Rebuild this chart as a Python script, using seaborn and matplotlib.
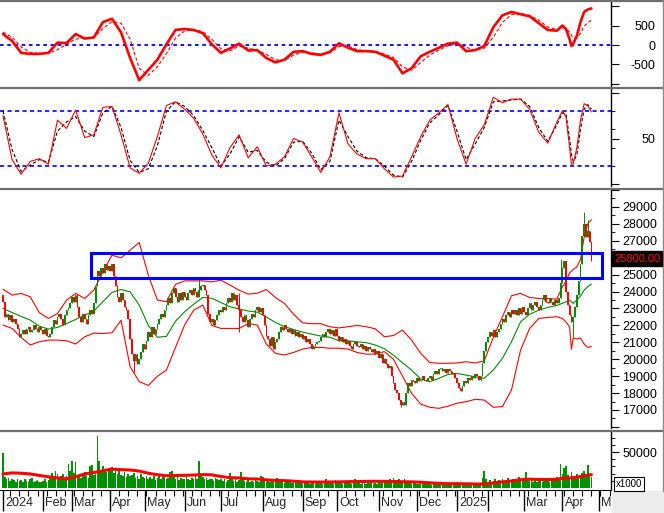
import numpy as np
import pandas as pd
import seaborn as sns
import matplotlib
matplotlib.use("Agg")
import matplotlib.pyplot as plt
from matplotlib.patches import Rectangle
from matplotlib.lines import Line2D

# ---- daily sessions, Jan 2024 -> Apr 2025 ----
close = [
    23400, 22500, 22700, 22300, 22600, 22200, 22400, 22100, 21800, 21300,
    21500, 21700, 21500, 21800, 21900, 21600, 21700, 22000, 21800, 21600,
    21900, 21700, 21500, 21800, 21400, 21300, 21500, 21900, 22300, 22100,
    22500, 22700, 22400, 22000, 22600, 22900, 23000, 23300, 23700, 23400,
    23800, 23100, 22500, 22200, 22700, 22400, 22100, 22600, 22900, 22700,
    23300, 24300, 25200, 24900, 25400, 25100, 25600, 25300, 25500, 25200,
    25600, 24900, 24300, 23700, 23400, 23900, 23500, 23100, 22900, 22400,
    21200, 20300, 19900, 20300, 19700, 20000, 20400, 20900, 20600, 21100,
    21600, 21300, 21900, 21500, 21800, 22100, 22400, 22700, 22500, 22900,
    23200, 23600, 23300, 23900, 24200, 23700, 23400, 23900, 23500, 24000,
    23700, 23500, 23900, 24100, 23800, 24200, 24000, 23700, 24100, 24300,
    24400, 24100, 23800, 22700, 22200, 22400, 22000, 22300, 22600, 22900,
    22800, 23100, 22900, 23300, 23600, 23400, 23900, 23500, 23800, 23200,
    22900, 22500, 22200, 22600, 22300, 21900, 22400, 22700, 22500, 22900,
    23100, 22800, 23000, 22600, 22000, 21400, 21200, 20800, 21300, 20600,
    21000, 21200, 21600, 21900, 21700, 22000, 21800, 21600, 21800, 21500,
    21700, 21400, 21600, 21300, 21500, 21200, 21400, 21000, 21200, 20900,
    20600, 20800, 20900, 21000, 21100, 21300, 21500, 21300, 21600, 21800,
    21500, 21700, 21400, 21800, 21400, 21100, 21300, 21000, 21200, 20900,
    21100, 20800, 20600, 20900, 21000, 20800, 20700, 20900, 20600, 20800,
    20500, 20700, 20600, 20400, 20600, 20300, 20500, 20100, 20300, 19800,
    20000, 19700, 19500, 19600, 19000, 18600, 18200, 18000, 17600, 17300,
    17500, 17300, 18000, 18600, 18400, 18800, 18700, 18600, 18900, 18700,
    18800, 19000, 18800, 18700, 18900, 19000, 18800, 19100, 19300, 19100,
    19400, 19500, 19300, 19400, 19200, 19400, 19300, 19100, 19200, 18900,
    18600, 18300, 18100, 18400, 18700, 18600, 18900, 18800, 19000, 18900,
    19100, 19000, 18800, 19000, 19800, 20500, 21000, 21300, 21600, 21400,
    21700, 21300, 21600, 21800, 22100, 22400, 22200, 22600, 22800, 22500,
    22900, 22700, 22900, 22600, 23000, 22700, 23100, 22800, 22600, 23000,
    23300, 22900, 23200, 23400, 23100, 22900, 23200, 23500, 23800, 23400,
    23300, 23600, 23400, 23200, 23500, 23300, 23600, 24500, 25400, 25800,
    24000, 23200, 22600, 22200, 22500, 23100, 23800, 24600, 25600, 27300,
    28000, 27200, 27600, 26900, 25800,
]
first_open = 23800
wick_high = {108: 24850, 130: 23900, 307: 25900, 320: 28700, 322: 28200}
wick_low = {72: 19250, 130: 21600, 219: 17200, 314: 21300}

# volume, thousands of (x1000) units
volume = [
    48, 15, 12, 14, 10, 13, 11, 9, 12, 10,
    11, 9, 13, 10, 8, 12, 14, 9, 10, 11,
    9, 8, 10, 12, 9, 11, 17, 21, 15, 23,
    19, 14, 16, 20, 12, 17, 33, 24, 38, 21,
    36, 18, 15, 14, 19, 22, 17, 14, 30, 32,
    18, 20, 72, 37, 24, 30, 27, 22, 28, 25,
    29, 21, 26, 19, 24, 18, 17, 22, 15, 20,
    16, 18, 21, 14, 17, 13, 19, 15, 14, 16,
    12, 15, 13, 17, 11, 14, 16, 12, 15, 18,
    13, 14, 22, 24, 16, 12, 15, 11, 14, 13,
    12, 15, 13, 11, 14, 12, 16, 13, 38, 17,
    15, 12, 14, 11, 13, 12, 10, 14, 12, 11,
    13, 10, 12, 9, 11, 21, 13, 10, 12, 9,
    11, 22, 12, 10, 9, 11, 8, 10, 9, 12,
    10, 8, 16, 15, 11, 9, 12, 8, 10, 9,
    11, 14, 9, 8, 10, 7, 9, 8, 10, 7,
    8, 9, 7, 8, 10, 6, 8, 7, 9, 6,
    8, 7, 6, 9, 7, 8, 6, 7, 12, 8,
    7, 9, 6, 11, 8, 7, 9, 6, 8, 7,
    9, 7, 6, 8, 12, 7, 9, 6, 8, 7,
    6, 9, 7, 8, 6, 7, 5, 8, 9, 7,
    11, 8, 9, 12, 10, 14, 9, 11, 13, 10,
    9, 12, 8, 7, 9, 6, 8, 7, 6, 5,
    7, 6, 5, 7, 6, 5, 4, 6, 5, 7,
    5, 4, 6, 5, 4, 6, 5, 4, 5, 6,
    8, 6, 5, 4, 5, 6, 4, 5, 6, 4,
    5, 4, 6, 5, 14, 23, 12, 9, 11, 8,
    10, 13, 9, 11, 8, 12, 10, 9, 14, 11,
    10, 13, 9, 11, 15, 10, 12, 14, 22, 11,
    10, 12, 9, 11, 8, 10, 13, 9, 11, 10,
    12, 9, 11, 10, 13, 15, 12, 34, 20, 28,
    31, 18, 14, 22, 16, 12, 19, 14, 18, 21,
    24, 17, 32, 19, 15,
]

# ---- indicator lines, read at these sessions ----
ind_idx = list(range(0, 306, 5)) + [308, 310, 312, 313, 314, 316, 318, 320, 322, 324]

bb_upper = [
    24140, 23790, 23890, 23690, 22750, 22410, 22700, 23490, 23890, 23590,
    24080, 25160, 26150, 25990, 26440, 26900, 24970, 23500, 23400, 24420,
    24630, 24630, 24630, 24570, 24670, 24380, 24080, 23850, 23900, 24120,
    23650, 23300, 22660, 22150, 22100, 22100, 21920, 21850, 21920, 22000,
    21920, 21800, 21330, 21400, 21720, 21130, 20350, 19800, 19760, 19760,
    19780, 19850, 19780, 19900, 21300, 22500, 23750, 23890, 23650, 23590,
    23590, 23550, 24280, 24600, 25100, 25200, 25300, 25450, 25900, 27200, 28000, 28250,
]
bb_mid = [
    23000, 22760, 22530, 22310, 21960, 21780, 21880, 22110, 22350, 22610,
    22840, 23400, 23950, 24120, 23980, 23200, 22000, 21300, 21350, 22250,
    22800, 23250, 23650, 23600, 23350, 23100, 22970, 22850, 22780, 22500,
    22170, 21920, 21760, 21600, 21480, 21370, 21300, 21090, 21090, 21030,
    20980, 20840, 20620, 20240, 19790, 19360, 18830, 18670, 18870, 19100,
    19160, 19060, 18960, 18870, 19360, 20050, 21030, 22210, 22660, 22900,
    23060, 23180, 23300, 23390, 23490, 23400, 23300, 23490, 23730, 24080, 24280, 24440,
]
bb_lower = [
    22020, 21820, 21290, 20840, 21030, 21130, 21130, 21090, 20900, 21330,
    21540, 21520, 21560, 22300, 19560, 18680, 18450, 18990, 19360, 20700,
    22020, 22900, 23200, 22000, 21820, 21820, 21820, 22110, 22020, 20900,
    20350, 20250, 20400, 20600, 20700, 20700, 20650, 20650, 20600, 20400,
    20300, 20300, 20450, 20000, 19000, 17980, 17350, 17160, 17100, 17220,
    17400, 17490, 17630, 17590, 17160, 17200, 18180, 20540, 21820, 22410,
    22470, 22510, 22400, 22210, 21900, 20600, 21250, 21200, 21250, 20900, 20700, 20750,
]
macd = [
    281, 105, -202, -228, -228, -202, 61, 50, 281, 166,
    193, 587, 675, 324, -333, -903, -640, -377, 18, 386,
    412, 386, 307, 18, -202, -88, 35, -140, -132, -333,
    -447, -377, -175, -158, -228, -254, -175, 44, -70, -158,
    -158, -175, -272, -377, -728, -596, -290, -175, -70, 35,
    61, -158, -132, -26, 456, 763, 850, 790, 737, 561,
    386, 368, 500, 412, 149, -26, 35, 237, 587, 850, 912, 939,
]
macd_signal = [
    330, 200, -50, -190, -220, -215, -120, 20, 150, 190,
    200, 420, 600, 560, 150, -600, -780, -560, -220, 180,
    360, 400, 340, 150, -100, -150, -30, -80, -130, -240,
    -380, -400, -260, -180, -200, -240, -200, -40, -20, -120,
    -150, -165, -230, -320, -560, -650, -450, -260, -130, -20,
    40, -60, -130, -80, 200, 580, 780, 810, 760, 640,
    460, 400, 440, 430, 330, 250, 190, 180, 300, 480, 570, 640,
]
stoch_k = [
    75, 27, 11, 25, 28, 22, 70, 61, 81, 51,
    54, 84, 85, 54, 18, 12, 23, 52, 86, 90,
    82, 72, 55, 32, 18, 40, 54, 29, 41, 20,
    22, 30, 50, 46, 30, 13, 30, 78, 44, 33,
    28, 28, 17, 8, 9, 30, 52, 70, 78, 87,
    50, 22, 50, 65, 95, 89, 93, 93, 82, 57,
    45, 68, 80, 74, 40, 22, 22, 40, 70, 88, 86, 79,
]
stoch_d = [
    80, 38, 14, 21, 27, 24, 58, 68, 74, 58,
    52, 78, 85, 62, 26, 13, 17, 42, 80, 90,
    85, 75, 59, 40, 20, 33, 52, 35, 37, 24,
    20, 28, 46, 47, 34, 16, 25, 70, 52, 36,
    29, 28, 20, 10, 8, 25, 48, 67, 76, 86,
    58, 27, 44, 62, 90, 91, 92, 93, 85, 62,
    47, 65, 78, 77, 50, 33, 25, 32, 60, 82, 87, 82,
]
vol_ma = [
    19500, 21000, 20500, 19500, 17500, 15500, 14000, 12700, 15500, 19500,
    21500, 24000, 26200, 25500, 25000, 23500, 20500, 18500, 17100, 17300,
    17600, 18000, 18600, 18300, 16000, 14300, 14000, 12700, 12500, 11300,
    10500, 10200, 9500, 8500, 8300, 8300, 8400, 8500, 8800, 9000,
    9200, 9300, 9200, 9000, 8700, 8500, 8000, 7200, 6500, 6000,
    6000, 5800, 5600, 5500, 7000, 8500, 9800, 11500, 12300, 11800,
    11800, 12000, 13500, 14000, 14000, 14000, 14000, 15000, 16000, 17000, 18000, 18500,
]

month_idx = [0, 22, 38, 59, 78, 100, 120, 143, 165, 184, 207, 228, 250, 267, 287, 308, 328]
month_lbl = ["2024", "Feb", "Mar", "Apr", "May", "Jun", "Jul", "Aug", "Sep",
             "Oct", "Nov", "Dec", "2025", "", "Mar", "Apr", "May"]
last_price = 25800

# ---- style ----
sns.set_style("white")
plt.rcParams["font.family"] = ["Liberation Sans", "DejaVu Sans"]
plt.rcParams["font.size"] = 9

W, H = 664, 513
RIGHT = 611
XLIM = (-1.65, 334.8)
UP, DOWN = "#008c00", "#ff0000"

fig = plt.figure(figsize=(W / 100, H / 100), dpi=100)
fig.patch.set_facecolor("white")


def panel(top, bottom):
    ax = fig.add_axes([0, 1 - bottom / H, RIGHT / W, (bottom - top) / H])
    ax.set_facecolor("white")
    for s in ("left", "top", "bottom"):
        ax.spines[s].set_visible(False)
    ax.spines["right"].set_color("black")
    ax.spines["right"].set_linewidth(1)
    ax.yaxis.tick_right()
    ax.tick_params(axis="y", which="major", direction="out", length=6, width=0.8,
                   pad=2, labelsize=9, colors="black")
    ax.tick_params(axis="y", which="minor", direction="out", length=3, width=0.8)
    return ax


def finish(ax):
    ax.set_xlim(*XLIM)
    ax.set_xticks([])
    ax.set_xlabel("")
    ax.set_ylabel("")


def right_align_labels(ax):
    # indicator panels have their labels flush to the right edge
    ax.tick_params(axis="y", which="major", pad=26)
    for lab in ax.get_yticklabels():
        lab.set_horizontalalignment("right")


# ---- MACD ----
ax1 = panel(2, 86)
ax1.axhline(0, color="blue", lw=1.3, ls=(0, (2, 2)))
sns.lineplot(x=ind_idx, y=macd_signal, ax=ax1, color="red", lw=0.8,
             linestyle=(0, (3, 2)), estimator=None)
sns.lineplot(x=ind_idx, y=macd, ax=ax1, color="red", lw=1.9, estimator=None)
ax1.set_ylim(-1053, 1105)
ax1.set_yticks([-1000, -500, 0, 500, 1000])
ax1.set_yticklabels(["", "-500", "0", "500", ""])
finish(ax1)
right_align_labels(ax1)

# ---- Stochastic ----
ax2 = panel(89, 186)
for lvl in (20, 80):
    ax2.axhline(lvl, color="blue", lw=1.2, ls=(0, (2.5, 2)))
sns.lineplot(x=ind_idx, y=stoch_d, ax=ax2, color="black", lw=0.8,
             linestyle=(0, (3, 2)), estimator=None)
sns.lineplot(x=ind_idx, y=stoch_k, ax=ax2, color="red", lw=0.8, estimator=None)
ax2.set_ylim(-1.8, 104)
ax2.set_yticks([0, 50, 100])
ax2.set_yticklabels(["", "50", ""])
ax2.set_yticks([20, 40, 60, 80], minor=True)
finish(ax2)
right_align_labels(ax2)

# ---- Price + Bollinger ----
ax3 = panel(190, 428)
sns.lineplot(x=ind_idx, y=bb_upper, ax=ax3, color="red", lw=0.8, estimator=None)
sns.lineplot(x=ind_idx, y=bb_lower, ax=ax3, color="red", lw=0.8, estimator=None)
sns.lineplot(x=ind_idx, y=bb_mid, ax=ax3, color="#008c00", lw=0.8, estimator=None)

df = pd.DataFrame({"close": close})
df["open"] = df["close"].shift(1).fillna(first_open)
df["top"] = df[["open", "close"]].max(axis=1)
df["bot"] = df[["open", "close"]].min(axis=1)
df["high"] = df["top"]
df["low"] = df["bot"]
for k, v in wick_high.items():
    df.loc[k, "high"] = v
for k, v in wick_low.items():
    df.loc[k, "low"] = v
colors = np.where(df["close"] >= df["open"], UP, DOWN)
ax3.vlines(df.index, df["low"], df["high"], colors=colors, lw=0.7, zorder=3)
ax3.bar(df.index, (df["top"] - df["bot"]).clip(lower=60), bottom=df["bot"],
        width=0.9, color=colors, lw=0, zorder=3)

ax3.add_patch(Rectangle((48.3, 24800), 330 - 48.3, 1500, fill=False,
                        edgecolor="blue", lw=2.2, zorder=4))
ax3.set_ylim(15936, 29986)
pticks = list(range(16000, 30001, 1000))
ax3.set_yticks(pticks)
ax3.set_yticklabels([str(t) if 17000 <= t <= 29000 and t != 26000 else "" for t in pticks])
ax3.set_yticks([t + 500 for t in pticks[:-1]], minor=True)
finish(ax3)

# ---- Volume ----
ax4 = panel(432, 490)
ax4.spines["bottom"].set_visible(True)
ax4.spines["bottom"].set_color("black")
ax4.bar(range(len(volume)), np.array(volume) * 1000, width=0.9, color="#009000", lw=0)
sns.lineplot(x=ind_idx, y=vol_ma, ax=ax4, color="red", lw=2.2, estimator=None)
ax4.set_ylim(-2780, 77800)
ax4.set_yticks([50000])
ax4.set_yticklabels(["50000"])
ax4.set_yticks([10000, 20000, 30000, 40000, 60000, 70000], minor=True)
finish(ax4)

# ---- date strip ----
ax5 = fig.add_axes([0, 0, RIGHT / W, 23 / H])
ax5.set_xlim(*XLIM)
ax5.set_ylim(0, 1)
ax5.axis("off")
ax5.vlines(range(4, 335, 5), 0.72, 1, color="black", lw=0.8)
ax5.vlines(month_idx, 0.1, 1, color="black", lw=1)
for m, lbl in zip(month_idx, month_lbl):
    ax5.text(m + 1.2, 0.42, lbl, ha="left", va="center", fontsize=9, clip_on=True)

# ---- frame pieces ----
for y in (1, 88, 189, 431):
    fig.add_artist(Line2D([0, 1], [1 - y / H] * 2, color="#6e6e6e", lw=1.6))
fig.add_artist(Line2D([662.5 / W] * 2, [22 / H, 1], color="#8a8a8a", lw=1))
fig.add_artist(Rectangle((612 / W, 0), 52 / W, 22 / H, transform=fig.transFigure,
                         facecolor="#ececec", edgecolor="none"))
fig.text(614 / W, 1 - 258.5 / H, f"{last_price:.2f}", color="red", fontsize=8,
         ha="left", va="center",
         bbox=dict(facecolor="black", edgecolor="black", pad=1.6))
fig.text(616 / W, 1 - 484 / H, "x1000", color="black", fontsize=7,
         ha="left", va="center",
         bbox=dict(facecolor="white", edgecolor="black", pad=1.2, lw=0.8))

fig.savefig("out.png", dpi=100, facecolor="white")
